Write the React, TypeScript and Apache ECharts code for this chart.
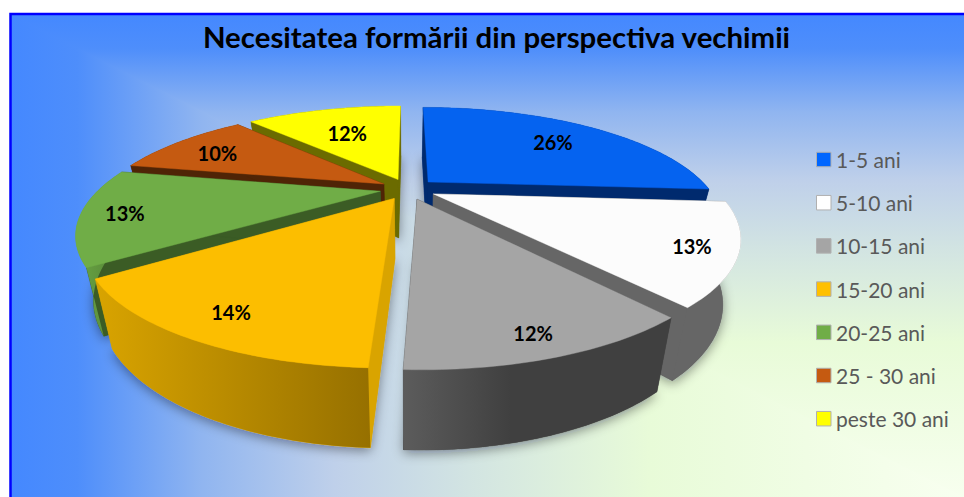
import React, { useEffect, useRef } from "react";
import * as echarts from "echarts";

const titleText = "Necesitatea formării din perspectiva vechimii";
const categories = ["1-5 ani", "5-10 ani", "10-15 ani", "15-20 ani", "20-25 ani", "25 - 30 ani", "peste 30 ani"];
const values = [26.1, 13.07, 11.5, 14.45, 13, 10, 11.88];
const topColors = ["#0563F0", "#FCFCFC", "#A5A5A5", "#FCBE00", "#70AD47", "#C55A11", "#FFFF00"];
const legendColors = ["#0066FF", "#FFFFFF", "#A5A5A5", "#FFC000", "#70AD47", "#C55A11", "#FFFF00"];
const cutColors = ["#002A6E", "#666666", "#424242", "#D9A400", "#3B5C25", "#4F2406", "#6B6B00"];
const outerFrom = ["#002A6E", "#666666", "#5C5C5C", "#D9A400", "#6AA544", "#4F2406", "#6B6B00"];
const outerTo = ["#002A6E", "#666666", "#404040", "#967000", "#4E7A32", "#4F2406", "#6B6B00"];
// paint order: back slices first
const paintOrder = [0, 6, 5, 4, 1, 3, 2];
// label placement (unit-disc polar around each slice's apex: angle in degrees, radius)
const labelPlace: [number, number][] = [[49, 0.71], [118.6, 0.87], [162.2, 0.89], [208, 0.857], [257, 0.859], [296.8, 0.763], [338, 0.609]];
const gradientStops = [
  { offset: 0, color: "#F8FFF0" },
  { offset: 0.33, color: "#E8FBD8" },
  { offset: 0.52, color: "#D2E4E2" },
  { offset: 0.66, color: "#BFD0EA" },
  { offset: 0.8, color: "#90B5F0" },
  { offset: 0.93, color: "#4E8EFB" },
  { offset: 1, color: "#4488FF" },
];

const CX = 408, CY = 189, A = 281, B = 104, K = 0.338, EXPLODE = 0.1;
const rad = (d: number) => (d * Math.PI) / 180;
const total = values.reduce((s, v) => s + v, 0);
const starts = values.map((_, i) => (values.slice(0, i).reduce((s, v) => s + v, 0) / total) * 360);

function top(u: number, v: number): number[] {
  const d = 1 + K * v;
  return [CX + (A * u) / d, CY - (B * v) / d];
}
function down(p: number[]): number[] {
  return [p[0] + (CX - p[0]) * 0.054, p[1] + 58 + (p[1] - 178) * 0.116];
}

function renderSlice(i: number) {
  return (_params: any, api: any) => {
    const share = api.value(0);
    const a0 = starts[i];
    const a1 = a0 + (share / total) * 360;
    const mid = rad((a0 + a1) / 2);
    const ex = EXPLODE * Math.sin(mid), ey = EXPLODE * Math.cos(mid);
    const apex = top(ex, ey);
    const arc: number[][] = [];
    const steps = Math.ceil(a1 - a0);
    for (let s = 0; s <= steps; s++) {
      const t = rad(a0 + ((a1 - a0) * s) / steps);
      arc.push(top(ex + Math.sin(t), ey + Math.cos(t)));
    }
    const arcDown = arc.map(down);
    const apexDown = down(apex);
    const poly = (points: number[][], fill: any, extra: any = {}) => ({
      type: "polygon",
      shape: { points },
      style: { fill, stroke: typeof fill === "string" ? fill : undefined, lineWidth: typeof fill === "string" ? 0.4 : 0, ...extra },
    });
    const last = arc.length - 1;
    const outerFill = new echarts.graphic.LinearGradient(0, 0, 1, 0, [
      { offset: 0, color: outerFrom[i] },
      { offset: i === 2 ? 0.4 : 1, color: outerTo[i] },
      { offset: 1, color: outerTo[i] },
    ]);
    const [la, lr] = labelPlace[i];
    const lp = top(ex + lr * Math.sin(rad(la)), ey + lr * Math.cos(rad(la)));
    return {
      type: "group",
      children: [
        poly([apexDown, ...arcDown], cutColors[i], { shadowBlur: 12, shadowColor: "rgba(0,0,30,0.42)", shadowOffsetX: 0, shadowOffsetY: 3 }),
        poly([apex, arc[0], arcDown[0], apexDown], cutColors[i]),
        poly([apex, arc[last], arcDown[last], apexDown], cutColors[i]),
        poly([...arc, ...arcDown.slice().reverse()], outerFill),
        poly([apex, ...arc], topColors[i]),
        {
          type: "text",
          x: lp[0],
          y: lp[1],
          style: {
            text: Math.round(share) + "%",
            fill: "#000000",
            font: "bold 20px Lato",
            align: "center",
            verticalAlign: "middle",
          },
        },
      ],
    };
  };
}

export default function App() {
  const ref = useRef<HTMLDivElement>(null);
  useEffect(() => {
    document.body.style.margin = "0";
    const chart = echarts.init(ref.current!, undefined, { renderer: "svg" });
    chart.setOption({
      animation: false,
      backgroundColor: "#FFFFFF",
      title: {
        text: titleText,
        left: 491.5,
        top: 17,
        textAlign: "center",
        textStyle: { fontFamily: "Lato", fontWeight: "bold", fontSize: 29.4, color: "#000000" },
      },
      legend: {
        orient: "vertical",
        left: 811,
        top: 144,
        itemWidth: 14.5,
        itemHeight: 14.5,
        itemGap: 22.2,
        icon: "rect",
        data: categories,
        selectedMode: false,
        itemStyle: { borderColor: "#B0B0B0", borderWidth: 1 },
        textStyle: { fontFamily: "Lato", fontSize: 21, lineHeight: 20, color: "#595959" },
      },
      graphic: [
        {
          type: "rect",
          z: -10,
          shape: { x: 10.5, y: 14, width: 960, height: 490 },
          style: { fill: new echarts.graphic.LinearGradient(0, 1, 0, 0, gradientStops) },
        },
        {
          type: "polygon",
          z: -9,
          shape: { points: [[10.5, 14], [964, 497], [10.5, 497]] },
          style: { fill: new echarts.graphic.LinearGradient(1, 0, 0, 0, gradientStops) },
        },
        {
          type: "rect",
          z: -8,
          shape: { x: 10.5, y: 14, width: 960, height: 490 },
          style: { fill: "none", stroke: "#0000FF", lineWidth: 2.5 },
        },
      ],
      series: categories.map((name, i) => ({
        type: "custom",
        name,
        coordinateSystem: "none",
        silent: true,
        z: 2 + paintOrder.indexOf(i),
        itemStyle: { color: legendColors[i] },
        data: [[values[i]]],
        renderItem: renderSlice(i),
      })),
    });
    return () => chart.dispose();
  }, []);
  return <div ref={ref} style={{ width: 964, height: 497 }} />;
}
